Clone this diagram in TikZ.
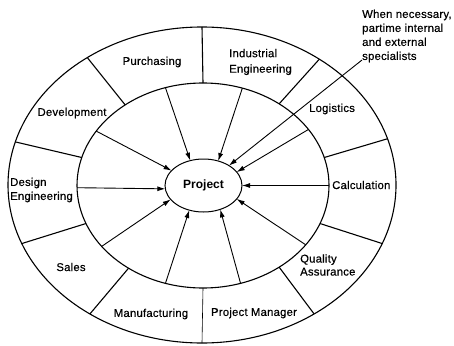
\documentclass[tikz,border=0pt]{standalone}
\usepackage{fontspec}
\setmainfont{Liberation Sans}
\newfontfamily\labelfont{Liberation Sans}[FakeBold=0.5,LetterSpace=2]
\usetikzlibrary{shapes.geometric,arrows.meta}
\begin{document}
\begin{tikzpicture}[x=1pt,y=-1pt,
  ring/.style={ellipse,draw,line width=1.1pt,inner sep=0pt,outer sep=0pt},
  divider/.style={line width=1.1pt},
  feed/.style={line width=0.9pt,-{Latex[length=8pt,width=5pt]}},
  lbl/.style={font=\labelfont\fontsize{11.3}{14}\selectfont,inner sep=0pt,align=left},
]
\useasboundingbox (0,0) rectangle (454,345);

% the three concentric rings
\node[ring,minimum width=388pt,minimum height=316pt] (outer) at (202,185) {};
\node[ring,minimum width=252pt,minimum height=205pt] (inner) at (203,185.5) {};
\node[ring,line width=1pt,minimum width=77pt,minimum height=53pt,
      font=\bfseries\fontsize{12}{13}\selectfont] (proj) at (203.5,185.5) {Project};

% sector dividers of the outer band
\draw[divider] (inner.90) -- (outer.90);
\draw[divider] (inner.134.5) -- (outer.132.3);
\draw[divider] (inner.167.8) -- (outer.167);
\draw[divider] (inner.198.2) -- (outer.198.4);
\draw[divider] (inner.228) -- (outer.229);
\draw[line width=0.6pt] (inner.270) -- (outer.270);
\draw[divider] (inner.313) -- (outer.311.6);
\draw[divider] (inner.342.4) -- (outer.342.7);
\draw[divider] (inner.13.6) -- (outer.14.4);
\draw[divider] (inner.47) -- (outer.47.5);

% contributions flowing into the project
\draw[feed] (inner.111.5) -- (proj.118.7);
\draw[feed] (inner.68.3) -- (proj.59);
\draw[feed] (inner.28.9) -- (proj.22.2);
\draw[feed] (inner.0) -- (proj.0);
\draw[feed] (inner.-30.5) -- (proj.-22);
\draw[feed] (inner.-69.2) -- (proj.-55);
\draw[feed] (inner.-111) -- (proj.-120);
\draw[feed] (inner.211.7) -- (proj.203);
\draw[feed] (inner.181.6) -- (proj.185);
\draw[feed] (inner.153) -- (proj.155.6);

% sector labels
\node[lbl] (purch) at (152,62) {Purchasing};
\node[lbl,anchor=west,font=\labelfont\fontsize{11.3}{15.5}\selectfont] (indeng) at (229,62) {Industrial\\Engineering};
\node[lbl] (logi) at (332,109) {Logistics};
\node[lbl,anchor=west] (calc) at (332,185) {Calculation};
\node[lbl,anchor=west,font=\labelfont\fontsize{11.3}{13}\selectfont] (qa) at (300,265) {Quality\\Assurance};
\node[lbl] (pm) at (254,313) {Project Manager};
\node[lbl] (manu) at (151,314) {Manufacturing};
\node[lbl] (sales) at (71,267) {Sales};
\node[lbl,anchor=west] (design) at (10,190) {Design\\Engineering};
\node[lbl] (devel) at (72,113) {Development};

% external specialists
\node[lbl,anchor=west] (spec) at (362,36) {When necessary,\\partime internal\\and external\\specialists};
\coordinate (specfoot) at (362,60);
\draw[feed] (specfoot) -- (proj.38.3);
\end{tikzpicture}
\end{document}
